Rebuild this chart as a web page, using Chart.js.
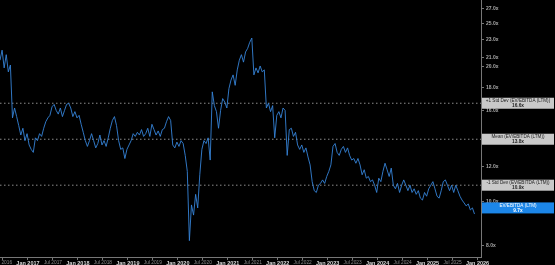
<!DOCTYPE html>
<html>
<head>
<meta charset="utf-8">
<script src="https://cdn.jsdelivr.net/npm/chart.js@4"></script>
<style>
  html, body { margin: 0; padding: 0; background: #000; }
  #chart { display: block; }
</style>
</head>
<body>
<canvas id="chart" width="555" height="265"></canvas>
<script>
// EV/EBITDA (LTM), semi-monthly readings from mid-2016 to end of 2025
const startYear = 2016.44;
const stepYears = 1 / 24;
const evEbitda = [
  20.7, 21.8, 19.9, 21.3, 19.5, 20.2, 15.4, 16.2, 15.5, 14.8,
  14.1, 14.6, 13.7, 14.2, 13.4, 13.1, 12.9, 13.9, 13.7, 14.2,
  14.0, 14.6, 15.1, 15.4, 15.6, 16.3, 16.5, 16.0, 15.7, 16.2,
  15.5, 16.0, 16.5, 16.6, 16.2, 15.5, 15.9, 15.4, 15.6, 14.9,
  14.3, 13.7, 13.3, 13.7, 14.2, 13.7, 13.2, 13.5, 14.1, 13.4,
  13.7, 13.3, 13.9, 14.6, 15.2, 15.5, 14.8, 13.7, 13.1, 13.2,
  12.5, 13.1, 13.4, 13.7, 14.2, 14.0, 14.3, 14.1, 14.5, 14.0,
  14.2, 14.6, 14.0, 14.9, 14.5, 14.1, 14.4, 14.0, 14.5, 14.6,
  15.1, 15.5, 15.2, 13.4, 13.2, 13.6, 13.3, 13.7, 13.5, 12.7,
  11.7, 8.2, 9.85, 9.35, 10.4, 9.7, 11.5, 13.1, 13.7, 13.5,
  13.9, 12.4, 17.6, 16.4, 15.9, 14.6, 16.0, 17.0, 16.7, 16.2,
  17.9, 18.7, 19.2, 18.2, 19.7, 20.7, 21.3, 20.5, 21.6, 22.0,
  22.7, 23.2, 19.2, 19.9, 19.4, 20.1, 19.5, 19.7, 16.2, 16.6,
  15.9, 16.4, 13.9, 15.6, 15.9, 15.4, 16.2, 16.0, 12.7, 14.5,
  14.6, 14.0, 14.3, 13.4, 13.1, 13.4, 12.9, 13.2, 12.6, 12.1,
  11.1, 10.6, 10.5, 10.9, 11.0, 11.2, 11.0, 11.4, 11.7, 12.1,
  13.3, 13.5, 12.9, 12.7, 13.1, 13.3, 12.9, 13.2, 12.7, 12.4,
  12.5, 12.2, 12.5, 12.1, 11.5, 11.8, 11.3, 11.4, 11.1, 11.2,
  10.9, 10.5, 11.3, 11.1, 11.7, 12.2, 11.8, 11.4, 11.9, 10.9,
  10.7, 11.0, 10.5, 10.9, 11.2, 10.9, 10.6, 10.9, 10.5, 10.7,
  10.4, 10.6, 10.2, 10.1, 10.5, 10.3, 10.7, 10.9, 11.1, 10.7,
  10.3, 10.2, 10.6, 11.1, 11.2, 10.9, 10.6, 10.9, 10.5, 10.9,
  10.6, 10.3, 10.1, 9.95, 9.8, 9.9, 9.6, 9.7, 9.4
];

// reference bands and current value
const refNames = ['+1 Std Dev (EV/EBITDA (LTM))', 'Mean (EV/EBITDA (LTM))', '-1 Std Dev (EV/EBITDA (LTM))'];
const refValues = [16.6, 13.8, 10.9];
const currentName = 'EV/EBITDA (LTM)';
const currentValue = 9.7;

// axes
const yTicks = [8, 10, 12, 16, 18, 20, 21, 23, 25, 27];
const xTicks = [2016.5, 2017, 2017.5, 2018, 2018.5, 2019, 2019.5, 2020, 2020.5, 2021, 2021.5,
  2022, 2022.5, 2023, 2023.5, 2024, 2024.5, 2025, 2025.5, 2026];
const xMin = 2016.44, xMax = 2026.07;
const yMin = 7.54, yMax = 28.2;

function tickLabel(v) {
  const yr = Math.floor(v + 0.001);
  return (v - yr > 0.25 ? 'Jul ' : 'Jan ') + yr;
}

const points = evEbitda.map((v, i) => ({ x: startYear + i * stepYears, y: v }));

const refDatasets = refValues.map(v => ({
  data: [{ x: xMin, y: v }, { x: xMax, y: v }],
  borderColor: '#8c8c8c',
  borderWidth: 1,
  borderDash: [1.5, 2.5],
  pointRadius: 0,
  order: 2
}));

const labelBoxes = {
  id: 'labelBoxes',
  afterDraw(chart) {
    const ctx = chart.ctx;
    const y = chart.scales.y;
    const left = chart.chartArea.right + 1;
    const w = chart.width - left - 1;
    const boxes = refNames.map((n, i) => ({ name: n, value: refValues[i], bg: '#c9c9c9', fg: '#222' }));
    boxes.push({ name: currentName, value: currentValue, bg: '#1c86e8', fg: '#fff' });
    ctx.save();
    boxes.forEach(b => {
      const py = y.getPixelForValue(b.value);
      ctx.fillStyle = b.bg;
      ctx.fillRect(left, py - 5.5, w, 11);
      ctx.fillStyle = b.fg;
      ctx.textAlign = 'center';
      ctx.textBaseline = 'middle';
      ctx.font = '4.6px "Liberation Sans", Arial, sans-serif';
      ctx.fillText(b.name, left + w / 2, py - 2.3);
      ctx.font = 'bold 4.8px "Liberation Sans", Arial, sans-serif';
      ctx.fillText(b.value.toFixed(1) + 'x', left + w / 2, py + 2.6);
    });
    ctx.restore();
  }
};

new Chart(document.getElementById('chart'), {
  type: 'line',
  data: {
    datasets: [{
      data: points,
      borderColor: '#3683d8',
      borderWidth: 0.9,
      pointRadius: 0,
      tension: 0,
      order: 1
    }, ...refDatasets]
  },
  options: {
    responsive: false,
    animation: false,
    devicePixelRatio: 1,
    layout: { padding: 0 },
    plugins: { legend: { display: false }, tooltip: { enabled: false } },
    scales: {
      x: {
        type: 'linear',
        min: xMin,
        max: xMax,
        afterBuildTicks: s => { s.ticks = xTicks.map(v => ({ value: v })); },
        afterFit: s => { s.height = 8; s.paddingLeft = 0; s.paddingRight = 0; },
        grid: { display: true, drawOnChartArea: false, drawTicks: true, tickLength: 3, color: '#777' },
        border: { display: true, color: '#777' },
        ticks: {
          autoSkip: false,
          maxRotation: 0,
          padding: 0,
          callback: v => tickLabel(v),
          color: c => (c.tick && c.tick.value % 1 === 0) ? '#d8d8d8' : '#8a8a8a',
          font: c => (c.tick && c.tick.value % 1 === 0)
            ? { family: 'Liberation Sans, Arial', size: 5.5, weight: 'bold' }
            : { family: 'Liberation Sans, Arial', size: 4.8 }
        }
      },
      y: {
        type: 'logarithmic',
        position: 'right',
        min: yMin,
        max: yMax,
        afterBuildTicks: s => { s.ticks = yTicks.map(v => ({ value: v })); },
        afterFit: s => { s.width = 74; s.paddingTop = 0; s.paddingBottom = 0; },
        grid: { display: true, drawOnChartArea: false, drawTicks: true, tickLength: 3, color: '#777' },
        border: { display: true, color: '#777' },
        ticks: {
          padding: 2,
          color: '#a8a8a8',
          font: { family: 'Liberation Sans, Arial', size: 5, weight: 'bold' },
          callback: v => Number(v).toFixed(1) + 'x'
        }
      }
    }
  },
  plugins: [labelBoxes]
});
</script>
</body>
</html>
